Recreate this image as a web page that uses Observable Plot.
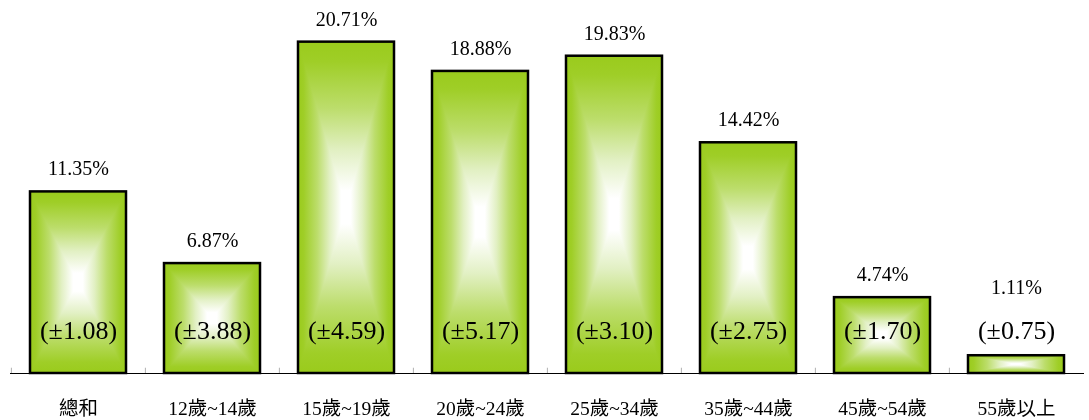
<!DOCTYPE html>
<html>
<head>
<meta charset="utf-8">
<script src="https://cdn.jsdelivr.net/npm/d3@7"></script>
<script src="https://cdn.jsdelivr.net/npm/@observablehq/plot@0.6"></script>
<style>
  html, body { margin: 0; padding: 0; background: #fff; }
  #chart svg { display: block; }
</style>
</head>
<body>
<div id="chart"></div>
<script>
const categories = ["總和", "12歲~14歲", "15歲~19歲", "20歲~24歲", "25歲~34歲", "35歲~44歲", "45歲~54歲", "55歲以上"];
const values = [11.35, 6.87, 20.71, 18.88, 19.83, 14.42, 4.74, 1.11];
const errors = [1.08, 3.88, 4.59, 5.17, 3.10, 2.75, 1.70, 0.75];

const data = categories.map((c, i) => ({category: c, value: values[i], error: errors[i]}));

const W = 1089, H = 420;
const mL = 10, mR = 5;
const half = (W - mL - mR) / categories.length / 2;
const errLabelY = 2.69;      // vertical position of "(±…)" labels (data units)
const minValueLabelY = 3.94; // keep value labels clear of the "(±…)" labels

const font = "'Liberation Serif', 'Noto Sans CJK TC', serif";

const chart = Plot.plot({
  width: W,
  height: H,
  marginTop: 21,
  marginBottom: 47,
  marginLeft: mL,
  marginRight: mR,
  style: {background: "white", color: "black"},
  x: {domain: categories, padding: 0, axis: null},
  y: {domain: [0, 22], axis: null},
  marks: [
    Plot.barY(data, {x: "category", y: "value", fill: "url(#gradH)", insetLeft: 19, insetRight: 19}),
    Plot.barY(data, {x: "category", y: "value", fill: "url(#gradV)", insetLeft: 19, insetRight: 19}),
    Plot.barY(data, {x: "category", y: "value", fill: "none", stroke: "black", strokeWidth: 2.5, insetLeft: 19, insetRight: 19}),
    Plot.ruleX(categories, {x: d => d, y1: 0, y2: 0.33, dx: -half, stroke: "#b0b0b0", strokeWidth: 1}),
    Plot.ruleY([0], {stroke: "black", strokeWidth: 1.2}),
    Plot.text(data, {x: "category", y: d => Math.max(d.value, minValueLabelY), text: d => d.value.toFixed(2) + "%", dy: -23, fontSize: 20, lineAnchor: "middle", fill: "black"}),
    Plot.text(data, {x: "category", y: errLabelY, text: d => "(±" + d.error.toFixed(2) + ")", fontSize: 26, lineAnchor: "middle", fill: "black"}),
    Plot.text(categories, {x: d => d, y: 0, dy: 35, text: d => d, fontSize: 19.5, lineAnchor: "middle", fill: "black"})
  ]
});

// serif font on every label
chart.setAttribute("font-family", font);
chart.querySelectorAll("text, g").forEach(el => { el.style.fontFamily = font; });

// gradient definitions for the bars (rectangular "from centre" gradient)
const ns = "http://www.w3.org/2000/svg";
const defs = document.createElementNS(ns, "defs");
function grad(id, x2, y2, stops) {
  const g = document.createElementNS(ns, "linearGradient");
  g.setAttribute("id", id);
  g.setAttribute("x1", "0"); g.setAttribute("y1", "0");
  g.setAttribute("x2", x2); g.setAttribute("y2", y2);
  for (const [off, col] of stops) {
    const s = document.createElementNS(ns, "stop");
    s.setAttribute("offset", off);
    s.setAttribute("stop-color", col);
    g.appendChild(s);
  }
  defs.appendChild(g);
}
const green = "#9acb1c";
const ramp = [["0", green], ["0.06", "#9fce27"], ["0.2", "#bcdd6b"], ["0.33", "#e2f0c4"], ["0.45", "#ffffff"], ["0.55", "#ffffff"],
              ["0.67", "#e2f0c4"], ["0.8", "#bcdd6b"], ["0.94", "#9fce27"], ["1", green]];
grad("gradH", "1", "0", ramp);
grad("gradV", "0", "1", ramp);
chart.insertBefore(defs, chart.firstChild);
chart.querySelectorAll('[fill="url(#gradV)"]').forEach(el => { el.style.mixBlendMode = "darken"; });

document.getElementById("chart").appendChild(chart);
</script>
</body>
</html>
